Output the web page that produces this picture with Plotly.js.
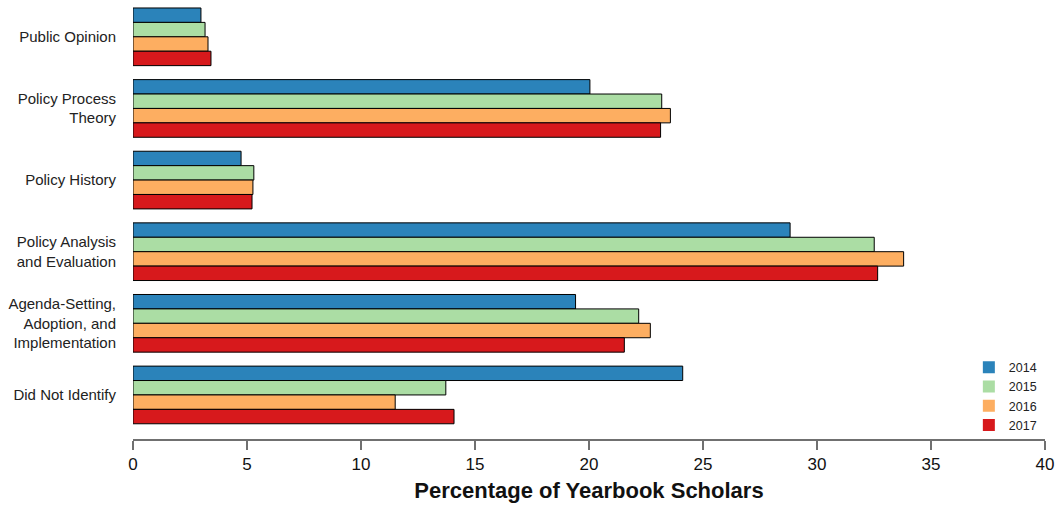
<!DOCTYPE html>
<html>
<head>
<meta charset="utf-8">
<script src="https://cdn.plot.ly/plotly-3.0.1.min.js"></script>
<style>html,body{margin:0;padding:0;background:#fff;}#chart{width:1060px;height:505px;}</style>
</head>
<body>
<div id="chart"></div>
<script>
const categories = ["Public Opinion", "Policy Process<br>Theory", "Policy History", "Policy Analysis<br>and Evaluation", "Agenda-Setting,<br>Adoption, and<br>Implementation", "Did Not Identify"];
const years = ["2014", "2015", "2016", "2017"];
const v2014 = [2.98, 20.04, 4.74, 28.82, 19.41, 24.11];
const v2015 = [3.16, 23.19, 5.30, 32.51, 22.18, 13.72];
const v2016 = [3.29, 23.57, 5.26, 33.80, 22.69, 11.50];
const v2017 = [3.42, 23.14, 5.22, 32.66, 21.55, 14.08];
const colors = ["#2b83ba", "#abdda4", "#fdae61", "#d7191c"];
const series = [v2014, v2015, v2016, v2017];

const traces = [];
series.forEach((vals, i) => {
  traces.push({
    type: "bar", orientation: "h", name: years[i], offsetgroup: years[i],
    x: vals, y: categories, showlegend: false,
    marker: {color: colors[i], line: {color: "#000", width: 1}},
    hoverinfo: "x"
  });
});
series.forEach((vals, i) => {
  traces.push({
    type: "bar", orientation: "h", name: years[i], offsetgroup: years[i],
    x: [null], y: [categories[0]], showlegend: true,
    marker: {color: colors[i], line: {width: 0}}
  });
});

const layout = {
  width: 1060, height: 505,
  margin: {l: 133, r: 15, t: 1, b: 66},
  paper_bgcolor: "#fff", plot_bgcolor: "#fff",
  barmode: "group", bargap: 0.195, bargroupgap: 0,
  font: {family: "Liberation Sans, Arial, sans-serif", color: "#222"},
  xaxis: {
    range: [0, 40], tickvals: [0,5,10,15,20,25,30,35,40],
    showgrid: false, zeroline: false,
    showline: true, linecolor: "#707070", linewidth: 1.5,
    ticks: "outside", ticklen: 9, tickcolor: "#707070", tickwidth: 1.5,
    tickfont: {size: 17, color: "#111"},
    title: {text: "<b>Percentage of Yearbook Scholars</b>", font: {size: 22, color: "#111"}, standoff: 9},
    fixedrange: true
  },
  yaxis: {
    type: "category", categoryorder: "array", categoryarray: categories,
    range: [5.615, -0.5],
    showgrid: false, zeroline: false, showline: false, ticks: "",
    ticklabelstandoff: 16,
    tickfont: {size: 15, color: "#222"},
    fixedrange: true
  },
  legend: {
    x: 0.9165, y: 0.197, xanchor: "left", yanchor: "top",
    font: {size: 12.5, color: "#222"}, bgcolor: "rgba(0,0,0,0)",
    traceorder: "normal", itemwidth: 30, tracegroupgap: 0
  },
  showlegend: true
};

Plotly.newPlot("chart", traces, layout, {displayModeBar: false, staticPlot: true});
</script>
</body>
</html>
